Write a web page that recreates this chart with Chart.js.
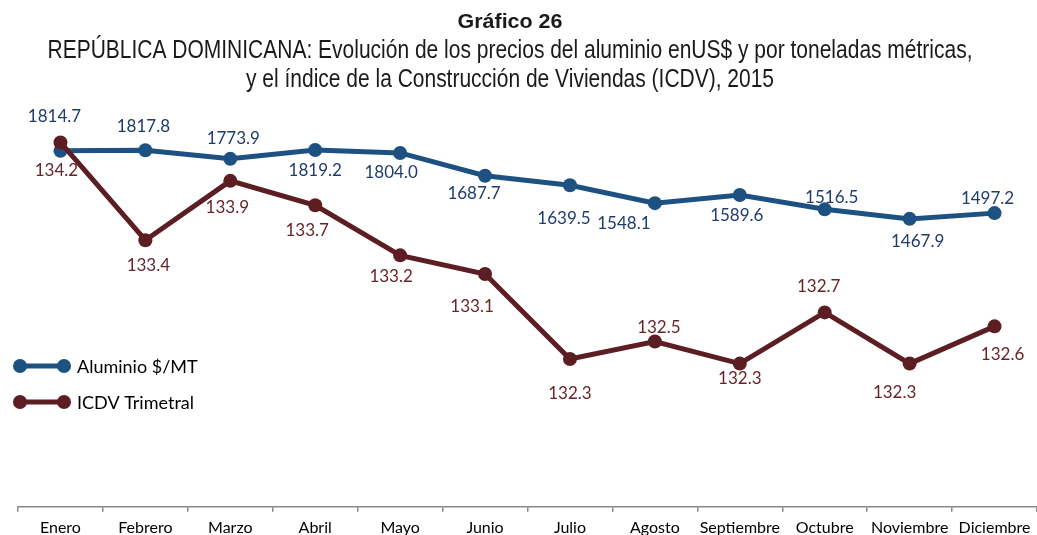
<!DOCTYPE html>
<html>
<head>
<meta charset="utf-8">
<script src="https://cdn.jsdelivr.net/npm/chart.js@4/dist/chart.umd.min.js"></script>
<style>
  html, body { margin: 0; padding: 0; background: #fff; overflow: hidden; }
  #caja { width: 1037px; height: 535px; position: relative; }
</style>
</head>
<body>
<div id="caja"><canvas id="grafico"></canvas></div>
<script>
const meses = ["Enero","Febrero","Marzo","Abril","Mayo","Junio","Julio","Agosto","Septiembre","Octubre","Noviembre","Diciembre"];
const aluminio = [1814.7, 1817.8, 1773.9, 1819.2, 1804.0, 1687.7, 1639.5, 1548.1, 1589.6, 1516.5, 1467.9, 1497.2];
const icdv = [134.2, 133.36, 133.87, 133.66, 133.23, 133.07, 132.34, 132.49, 132.3, 132.74, 132.3, 132.62];

const titulo = 'Gráfico 26';
const subtitulo = ['REPÚBLICA DOMINICANA: Evolución de los precios del aluminio enUS$ y por toneladas métricas,',
                   'y el índice de la Construcción de Viviendas (ICDV), 2015'];

// desplazamiento de cada etiqueta respecto al punto (x, y)
const despAluminio = [[-6,-34],[-2,-24],[3,-20],[0,21],[-9,20],[-11,18],[-6,33],[-31,20],[-3,21],[7,-12],[8,23],[-7,-15]];
const despIcdv = [[-4,28],[3,25],[-3,27],[-8,25],[-9,21],[-13,33],[0,35],[4,-14],[0,15],[-6,-26],[-15,29],[8,28]];

const azul = '#1d5182', azulTexto = '#1f3c6c';
const vino = '#5d1e23', vinoTexto = '#692428';
const fuenteTexto = 'Lato, "Open Sans", sans-serif';
const fuenteTitulo = '"Liberation Sans", Arial, sans-serif';

// texto estrecho: se comprime en horizontal para imitar una fuente condensada
function textoEstrecho(ctx, texto, cx, base, escala) {
  ctx.save();
  ctx.translate(cx, base);
  ctx.scale(escala, 1);
  ctx.fillText(texto, 0, 0);
  ctx.restore();
}

const encabezado = {
  id: 'encabezado',
  afterDraw(chart) {
    const ctx = chart.ctx;
    ctx.save();
    ctx.fillStyle = '#1a1a1a';
    ctx.textAlign = 'center';
    ctx.textBaseline = 'alphabetic';
    ctx.font = 'bold 21px ' + fuenteTitulo;
    textoEstrecho(ctx, titulo, 510, 28, 105 / ctx.measureText(titulo).width);
    ctx.font = '26px ' + fuenteTitulo;
    const esc = 925 / ctx.measureText(subtitulo[0]).width;
    textoEstrecho(ctx, subtitulo[0], 510, 58, esc);
    textoEstrecho(ctx, subtitulo[1], 510, 87, esc);
    ctx.restore();
  }
};

const etiquetas = {
  id: 'etiquetas',
  afterDatasetsDraw(chart) {
    const ctx = chart.ctx;
    const desps = [despIcdv, despAluminio];
    const colores = [vinoTexto, azulTexto];
    ctx.save();
    ctx.font = '17px ' + fuenteTexto;
    ctx.textAlign = 'center';
    ctx.textBaseline = 'middle';
    chart.data.datasets.forEach((ds, i) => {
      const meta = chart.getDatasetMeta(i);
      ctx.fillStyle = colores[i];
      meta.data.forEach((pt, j) => {
        const [dx, dy] = desps[i][j];
        ctx.fillText(ds.data[j].toFixed(1), pt.x + dx, pt.y + dy);
      });
    });

    // leyenda
    const items = [
      { texto: 'Aluminio $/MT', color: azul, y: 366 },
      { texto: 'ICDV Trimetral', color: vino, y: 402 }
    ];
    items.forEach(it => {
      ctx.strokeStyle = it.color;
      ctx.fillStyle = it.color;
      ctx.lineWidth = 5;
      ctx.beginPath();
      ctx.moveTo(20, it.y);
      ctx.lineTo(64, it.y);
      ctx.stroke();
      [20, 64].forEach(cx => {
        ctx.beginPath();
        ctx.arc(cx, it.y, 7, 0, Math.PI * 2);
        ctx.fill();
      });
      ctx.fillStyle = '#000';
      ctx.textAlign = 'left';
      ctx.font = '18px ' + fuenteTexto;
      ctx.fillText(it.texto, 77, it.y + 1);
    });
    ctx.restore();
  }
};

const ctx = document.getElementById('grafico').getContext('2d');
const grafico = new Chart(ctx, {
  type: 'line',
  data: {
    labels: meses,
    datasets: [{
      label: 'ICDV Trimetral',
      data: icdv,
      yAxisID: 'yIcdv',
      borderColor: vino,
      backgroundColor: vino,
      borderWidth: 5,
      pointRadius: 7,
      pointHoverRadius: 7,
      pointBorderWidth: 0,
      tension: 0,
      order: 0
    }, {
      label: 'Aluminio $/MT',
      data: aluminio,
      yAxisID: 'yAlu',
      borderColor: azul,
      backgroundColor: azul,
      borderWidth: 5,
      pointRadius: 7,
      pointHoverRadius: 7,
      pointBorderWidth: 0,
      tension: 0,
      order: 1
    }]
  },
  options: {
    responsive: true,
    maintainAspectRatio: false,
    animation: false,
    layout: { autoPadding: false, padding: { left: 18, right: -3, top: 114.5, bottom: -8 } },
    plugins: {
      legend: { display: false },
      tooltip: { enabled: false },
      title: { display: false }
    },
    scales: {
      x: {
        offset: true,
        grid: { display: true, drawOnChartArea: false, offset: true, tickLength: 5, color: '#888', lineWidth: 1.5 },
        border: { display: true, color: '#888', width: 1.5 },
        ticks: { color: '#000', font: { family: fuenteTexto, size: 16 }, padding: 6, maxRotation: 0, autoSkip: false }
      },
      yAlu: { display: false, position: 'left', min: 0, max: 2000 },
      yIcdv: { display: false, position: 'right', min: 131.07, max: 134.44 }
    }
  },
  plugins: [etiquetas, encabezado]
});
</script>
</body>
</html>
